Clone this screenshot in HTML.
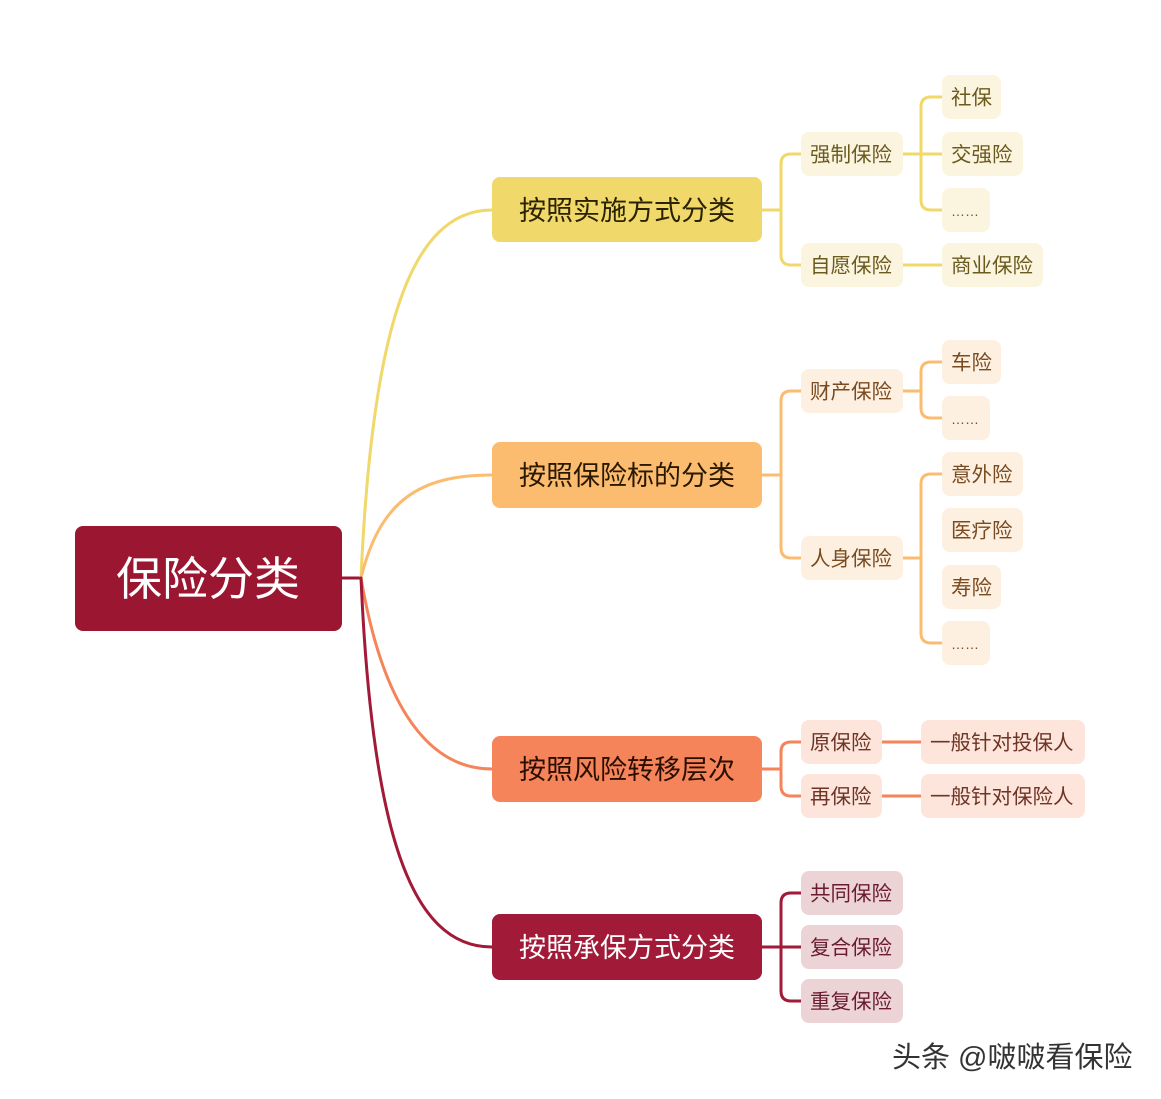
<!DOCTYPE html>
<html><head><meta charset="utf-8"><style>
html,body{margin:0;padding:0;background:#fff;}
svg{display:block;}
text{font-family:"Liberation Sans","Noto Sans CJK SC",sans-serif;dominant-baseline:central;}
</style></head><body>
<svg width="1161" height="1099" viewBox="0 0 1161 1099" xmlns="http://www.w3.org/2000/svg">
<g fill="none" stroke-width="3" stroke-linecap="round">
  <line x1="342" y1="578" x2="361" y2="578" stroke="#9b1630"/>
  <path d="M361 578 C372 330 410 210 492 210" stroke="#f0d86a"/>
  <path d="M361 578 C380 500 420 475 492 475" stroke="#fbbc70"/>
  <path d="M361 578 C380 690 420 769 492 769" stroke="#f6845a"/>
  <path d="M361 578 C372 830 410 947 492 947" stroke="#a11a38"/>
  <g stroke="#f0d86a">
    <path d="M762 210 H781 M801 154 H791 Q781 154 781 164 V255 Q781 265 791 265 H801"/>
    <path d="M903 154 H942 M942 97 H931 Q921 97 921 107 V200 Q921 210 931 210 H942"/>
    <path d="M903 265 H942"/>
  </g>
  <g stroke="#fbbc70">
    <path d="M762 475 H781 M801 391 H791 Q781 391 781 401 V548 Q781 558 791 558 H801"/>
    <path d="M903 391 H921 M942 362 H931 Q921 362 921 372 V408 Q921 418 931 418 H942"/>
    <path d="M903 558 H921 M942 474 H931 Q921 474 921 484 V633 Q921 643 931 643 H942"/>
  </g>
  <g stroke="#f6845a">
    <path d="M762 769 H781 M801 742 H791 Q781 742 781 752 V786 Q781 796 791 796 H801"/>
    <path d="M882 742 H921 M882 796 H921"/>
  </g>
  <g stroke="#a11a38">
    <path d="M762 947 H801 M801 893 H791 Q781 893 781 903 V991 Q781 1001 791 1001 H801"/>
  </g>
</g>

<rect x="75" y="526" width="267" height="105" rx="8" fill="#9b1630"/>
<text x="208" y="579" font-size="46" fill="#fff" text-anchor="middle">保险分类</text>

<g font-size="27" text-anchor="middle">
<rect x="492" y="177" width="270" height="65" rx="8" fill="#f0d86a"/>
<text x="627" y="211" fill="#2a2200">按照实施方式分类</text>
<rect x="492" y="442" width="270" height="66" rx="8" fill="#fbbc70"/>
<text x="627" y="476" fill="#2a1800">按照保险标的分类</text>
<rect x="492" y="736" width="270" height="66" rx="8" fill="#f6845a"/>
<text x="627" y="770" fill="#2a0e00">按照风险转移层次</text>
<rect x="492" y="914" width="270" height="66" rx="8" fill="#a11a38"/>
<text x="627" y="948" fill="#fff">按照承保方式分类</text>
</g>

<g font-size="20.5">
  <g fill="#fbf5e0">
    <rect x="801" y="132" width="102" height="44" rx="8"/>
    <rect x="801" y="243" width="102" height="44" rx="8"/>
    <rect x="942" y="75" width="59" height="44" rx="8"/>
    <rect x="942" y="132" width="81" height="44" rx="8"/>
    <rect x="942" y="188" width="48" height="44" rx="8"/>
    <rect x="942" y="243" width="101" height="44" rx="8"/>
  </g>
  <g fill="#6b5a1e">
    <text x="810" y="155">强制保险</text>
    <text x="810" y="266">自愿保险</text>
    <text x="951" y="98">社保</text>
    <text x="951" y="155">交强险</text>
    <text x="951" y="211" font-size="14">……</text>
    <text x="951" y="266">商业保险</text>
  </g>
  <g fill="#fdf0e0">
    <rect x="801" y="369" width="102" height="44" rx="8"/>
    <rect x="801" y="536" width="102" height="44" rx="8"/>
    <rect x="942" y="340" width="59" height="44" rx="8"/>
    <rect x="942" y="396" width="48" height="44" rx="8"/>
    <rect x="942" y="452" width="81" height="44" rx="8"/>
    <rect x="942" y="508" width="81" height="44" rx="8"/>
    <rect x="942" y="565" width="59" height="44" rx="8"/>
    <rect x="942" y="621" width="48" height="44" rx="8"/>
  </g>
  <g fill="#7a4a20">
    <text x="810" y="392">财产保险</text>
    <text x="810" y="559">人身保险</text>
    <text x="951" y="363">车险</text>
    <text x="951" y="419" font-size="14">……</text>
    <text x="951" y="475">意外险</text>
    <text x="951" y="531">医疗险</text>
    <text x="951" y="588">寿险</text>
    <text x="951" y="644" font-size="14">……</text>
  </g>
  <g fill="#fde5dc">
    <rect x="801" y="720" width="81" height="44" rx="8"/>
    <rect x="801" y="774" width="81" height="44" rx="8"/>
    <rect x="921" y="720" width="164" height="44" rx="8"/>
    <rect x="921" y="774" width="164" height="44" rx="8"/>
  </g>
  <g fill="#6e3424">
    <text x="810" y="743">原保险</text>
    <text x="810" y="797">再保险</text>
    <text x="930" y="743">一般针对投保人</text>
    <text x="930" y="797">一般针对保险人</text>
  </g>
  <g fill="#ecd3d6">
    <rect x="801" y="871" width="102" height="44" rx="8"/>
    <rect x="801" y="925" width="102" height="44" rx="8"/>
    <rect x="801" y="979" width="102" height="44" rx="8"/>
  </g>
  <g fill="#6a1c2c">
    <text x="810" y="894">共同保险</text>
    <text x="810" y="948">复合保险</text>
    <text x="810" y="1002">重复保险</text>
  </g>
</g>

<text x="892" y="1058" font-size="29" fill="#333">头条 @啵啵看保险</text>
</svg>
</body></html>
